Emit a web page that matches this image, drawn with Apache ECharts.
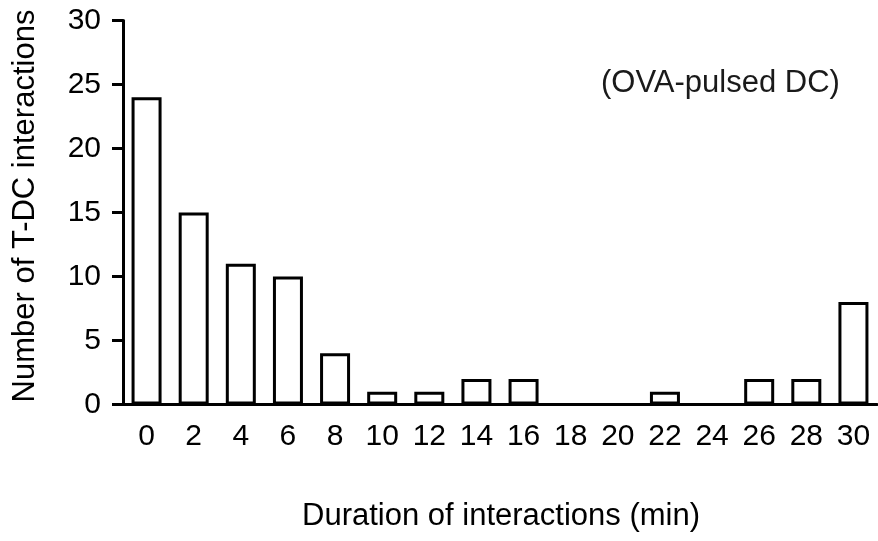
<!DOCTYPE html>
<html>
<head>
<meta charset="utf-8">
<script src="https://cdn.jsdelivr.net/npm/echarts@6/dist/echarts.min.js"></script>
<style>
  html, body { margin: 0; padding: 0; background: #fff; }
  #chart { width: 878px; height: 541px; }
</style>
</head>
<body>
<div id="chart"></div>
<script>
// minutes (bin start), every 2 min
const durations = ['0', '2', '4', '6', '8', '10', '12', '14', '16', '18', '20', '22', '24', '26', '28', '30'];
// number of T-DC interactions in each bin
const counts = [24, 15, 11, 10, 4, 1, 1, 2, 2, 0, 0, 1, 0, 2, 2, 8];

const font = 'Liberation Sans, Arial, sans-serif';
const chart = echarts.init(document.getElementById('chart'));

chart.setOption({
  animation: false,
  grid: { left: 123, right: 1, top: 20.5, bottom: 136.5, containLabel: false },
  xAxis: {
    type: 'category',
    data: durations,
    axisLine: { lineStyle: { color: '#000', width: 3 } },
    axisTick: { alignWithLabel: true, length: 11, lineStyle: { color: '#000', width: 3 } },
    axisLabel: { fontFamily: font, fontSize: 30, color: '#000', margin: 17 },
  },
  yAxis: {
    type: 'value',
    min: 0,
    max: 30,
    interval: 5,
    splitLine: { show: false },
    axisLine: { show: true, lineStyle: { color: '#000', width: 3 } },
    axisTick: { show: true, length: 11, lineStyle: { color: '#000', width: 3 } },
    axisLabel: { fontFamily: font, fontSize: 30, color: '#000', margin: 22 },
  },
  graphic: [
    {
      type: 'text',
      x: 25,
      y: 206,
      rotation: Math.PI / 2,
      style: {
        text: 'Number of T-DC interactions',
        fontFamily: font, fontSize: 31, fill: '#000',
        align: 'center', verticalAlign: 'middle',
      },
    },
    {
      type: 'text',
      x: 501,
      y: 516,
      style: {
        text: 'Duration of interactions (min)',
        fontFamily: font, fontSize: 31, fill: '#000',
        align: 'center', verticalAlign: 'middle',
      },
    },
    {
      type: 'text',
      x: 601,
      y: 83,
      style: {
        text: '(OVA-pulsed DC)',
        fontFamily: font, fontSize: 31, fill: '#1a1a1a',
        align: 'left', verticalAlign: 'middle',
      },
    },
  ],
  series: [
    {
      type: 'bar',
      data: counts,
      barWidth: 30,
      itemStyle: { color: '#fff', borderColor: '#000', borderWidth: 3 },
    },
  ],
});
</script>
</body>
</html>
